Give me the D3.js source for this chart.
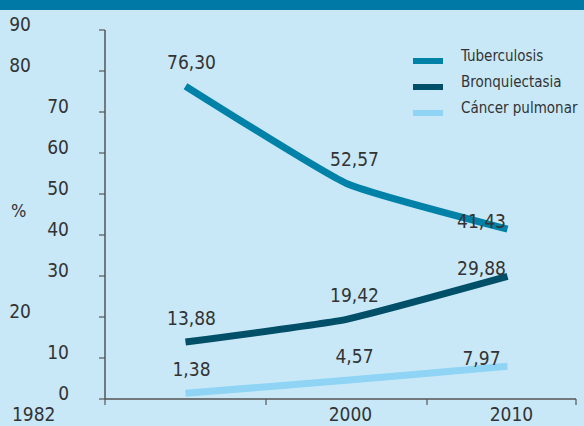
<!DOCTYPE html>
<html>
<head>
<meta charset="utf-8">
<script src="https://cdn.jsdelivr.net/npm/d3@7"></script>
<style>
body { margin: 0; }
text { font-family: "DejaVu Sans Condensed", "DejaVu Sans", sans-serif; fill: #333; }
</style>
</head>
<body>
<svg class="chart_svg" width="584" height="426"></svg>
<script>
var years = ["1982", "2000", "2010"];
var series_names = ["Tuberculosis", "Bronquiectasia", "Cáncer pulmonar"];
var tuberculosis = [76.30, 52.57, 41.43];
var bronquiectasia = [13.88, 19.42, 29.88];
var cancer = [1.38, 4.57, 7.97];
var y_ticks = [0, 10, 20, 30, 40, 50, 60, 70, 80, 90];
var y_ticks_outer = [90, 80, 20]; // these labels sit further left in the original
var colors = ["#0082a8", "#004f68", "#8fd4f4"];

var W = 584, H = 426;
var svg = d3.select(".chart_svg");

// background + top band
svg.append("rect").attr("width", W).attr("height", H).attr("fill", "#c8e8f8");
svg.append("rect").attr("width", W).attr("height", 10).attr("fill", "#0079a7");

var x = d3.scaleBand().domain(years).range([105, 588]);
var y = d3.scaleLinear().domain([0, 90]).range([399, 30]);
var x_end = 576;

// y axis
svg.append("line")
    .attr("x1", 105).attr("x2", 105)
    .attr("y1", y(90)).attr("y2", y(0))
    .attr("stroke", "#555").attr("stroke-width", 1.5);

y_ticks.forEach(function (t) {
    svg.append("line")
        .attr("x1", 99).attr("x2", 105)
        .attr("y1", y(t)).attr("y2", y(t))
        .attr("stroke", "#555").attr("stroke-width", 1.2);
    svg.append("text")
        .text(t)
        .attr("x", y_ticks_outer.indexOf(t) >= 0 ? 31 : 69)
        .attr("y", y(t) + 1)
        .attr("text-anchor", "end")
        .style("font-size", "19px");
});

svg.append("text").text("%")
    .attr("x", 11).attr("y", 217)
    .style("font-size", "18px");

// x axis
svg.append("line")
    .attr("x1", 105).attr("x2", x_end)
    .attr("y1", y(0)).attr("y2", y(0))
    .attr("stroke", "#555").attr("stroke-width", 1.5);

years.map(function (d) { return x(d); }).concat([x_end]).forEach(function (px) {
    svg.append("line")
        .attr("x1", px).attr("x2", px)
        .attr("y1", y(0)).attr("y2", y(0) + 6)
        .attr("stroke", "#555").attr("stroke-width", 1.2);
});

years.forEach(function (d, i) {
    svg.append("text")
        .text(d)
        .attr("x", i == 0 ? 12 : x(d) + x.bandwidth() / 2 + 4)
        .attr("y", 421)
        .attr("text-anchor", i == 0 ? "start" : "middle")
        .style("font-size", "19px");
});

// lines
var all_series = [tuberculosis, bronquiectasia, cancer];
var line = d3.line()
    .x(function (d, i) { return x(years[i]) + x.bandwidth() / 2; })
    .y(function (d) { return y(d); })
    .curve(d3.curveCardinal.tension(0.6));

var fmt = d3.formatLocale({ decimal: ",", thousands: ".", grouping: [3], currency: ["", ""] }).format(".2f");
var label_dx = [6, 8, -26],
    label_dy = [-17, -17, -1];

all_series.forEach(function (vals, s) {
    svg.append("path")
        .datum(vals)
        .attr("d", line)
        .attr("fill", "none")
        .attr("stroke", colors[s])
        .attr("stroke-width", 7);

    vals.forEach(function (v, i) {
        svg.append("text")
            .text(fmt(v))
            .attr("x", x(years[i]) + x.bandwidth() / 2 + label_dx[i])
            .attr("y", y(v) + label_dy[i])
            .attr("text-anchor", "middle")
            .style("font-size", "19px");
    });
});

// legend
series_names.forEach(function (name, s) {
    var ly = 61 + s * 26;
    svg.append("line")
        .attr("x1", 413).attr("x2", 443)
        .attr("y1", ly).attr("y2", ly)
        .attr("stroke", colors[s]).attr("stroke-width", 6);
    svg.append("text")
        .text(name)
        .attr("x", 461).attr("y", ly)
        .style("font-size", "15px");
});
</script>
</body>
</html>
